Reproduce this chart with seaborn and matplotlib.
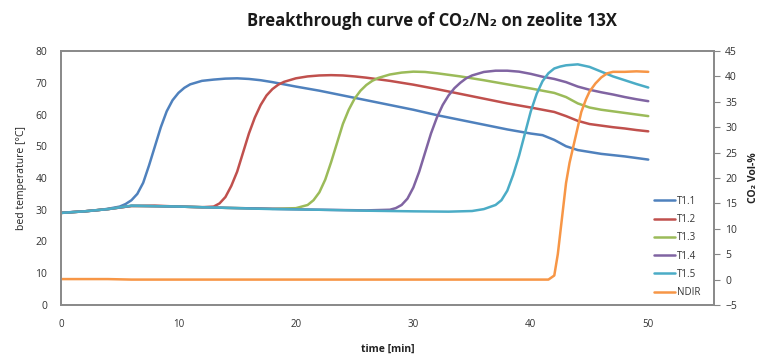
import numpy as np
import pandas as pd
import matplotlib
matplotlib.use("Agg")
import matplotlib.pyplot as plt
import seaborn as sns
from matplotlib.lines import Line2D

# ---- data ----
t_T11 = [0, 1, 2, 3, 4, 5, 5.5, 6, 6.5, 7, 7.5, 8, 8.5, 9, 9.5, 10, 10.5, 11, 12, 13, 14, 15, 16, 17, 18, 19, 20,
         22, 24, 26, 28, 30, 32, 34, 36, 38, 40, 41, 42, 43, 44, 45, 46, 47, 48, 49, 50]
v_T11 = [29, 29.3, 29.5, 29.8, 30.3, 31, 31.8, 33, 35, 38.5, 44, 50, 56, 61, 64.5, 66.8, 68.4, 69.5, 70.6, 71, 71.3,
         71.4, 71.2, 70.8, 70.2, 69.5, 68.8, 67.5, 66, 64.5, 63, 61.5, 59.8, 58.3, 56.8, 55.3, 54, 53.5, 52, 50,
         48.8, 48.2, 47.6, 47.2, 46.8, 46.3, 45.8]

t_T12 = [0, 2, 4, 6, 8, 10, 12, 13, 13.5, 14, 14.5, 15, 15.5, 16, 16.5, 17, 17.5, 18, 18.5, 19, 20, 21, 22, 23,
         24, 25, 26, 28, 30, 32, 34, 36, 38, 40, 42, 43, 44, 45, 46, 47, 48, 49, 50]
v_T12 = [29, 29.5, 30.2, 31.2, 31.3, 31, 30.8, 31, 32, 34, 37.5, 42, 48, 54, 59, 63, 66, 68, 69.4, 70.3, 71.4, 72,
         72.3, 72.4, 72.3, 72, 71.6, 70.6, 69.4, 68, 66.5, 65, 63.5, 62.2, 60.8, 59.5, 58, 57, 56.5, 56, 55.6,
         55.1, 54.7]

t_T13 = [0, 2, 4, 6, 10, 14, 18, 20, 21, 21.5, 22, 22.5, 23, 23.5, 24, 24.5, 25, 25.5, 26, 26.5, 27, 28, 29, 30,
         31, 32, 34, 36, 38, 40, 42, 43, 44, 45, 46, 47, 48, 49, 50]
v_T13 = [29, 29.5, 30.2, 31.2, 31, 30.6, 30.3, 30.5, 31.5, 33, 35.5, 39.5, 45, 51, 57, 61.5, 65, 67.5, 69.3, 70.6,
         71.5, 72.6, 73.2, 73.5, 73.4, 73, 72, 70.8, 69.5, 68.2, 66.8, 65.5, 63.5, 62.2, 61.5, 61, 60.5, 60, 59.5]

t_T14 = [0, 2, 4, 6, 10, 14, 18, 22, 26, 28, 28.5, 29, 29.5, 30, 30.5, 31, 31.5, 32, 32.5, 33, 33.5, 34, 34.5, 35,
         36, 37, 38, 39, 40, 41, 42, 43, 44, 45, 46, 47, 48, 49, 50]
v_T14 = [29, 29.5, 30.2, 31.2, 31, 30.6, 30.3, 30, 29.8, 30, 30.5, 31.5, 33.5, 37, 42, 48, 54, 59, 63, 66, 68.3,
         70, 71.4, 72.3, 73.4, 73.8, 73.8, 73.5, 72.8, 71.9, 71.2, 70.2, 68.8, 67.8, 67, 66.3, 65.5, 64.8, 64.2]

t_T15 = [0, 2, 4, 6, 10, 14, 18, 22, 26, 30, 33, 35, 36, 37, 37.5, 38, 38.5, 39, 39.5, 40, 40.5, 41, 41.5, 42,
         42.5, 43, 44, 45, 46, 47, 48, 49, 50]
v_T15 = [29, 29.5, 30.2, 31.3, 31, 30.6, 30.2, 30, 29.7, 29.5, 29.4, 29.6, 30.2, 31.5, 33, 36, 41, 47, 54, 61, 66.5,
         70.5, 73, 74.5, 75.1, 75.5, 75.8, 75, 73.5, 72, 70.8, 69.6, 68.5]

t_NDIR = [0, 4, 6, 10, 20, 30, 40, 41.5, 42, 42.3, 42.7, 43, 43.3, 43.6, 44, 44.3, 44.7, 45, 45.5, 46, 46.5, 47,
          48, 49, 50]
v_NDIR = [0.1, 0.1, 0, 0, 0, 0, 0, 0, 0.8, 5, 13, 19, 23, 26, 30, 33, 35.5, 37, 38.6, 39.8, 40.6, 40.9, 40.9, 41,
          40.9]

temp_series = ["T1.1", "T1.2", "T1.3", "T1.4", "T1.5"]
temp_times = [t_T11, t_T12, t_T13, t_T14, t_T15]
temp_vals = [v_T11, v_T12, v_T13, v_T14, v_T15]
colors = ["#4F81BD", "#C0504D", "#9BBB59", "#8064A2", "#4BACC6"]
ndir_color = "#F79646"

x_ticks = [0, 10, 20, 30, 40, 50]
y_left_ticks = [0, 10, 20, 30, 40, 50, 60, 70, 80]
y_right_ticks = [-5, 0, 5, 10, 15, 20, 25, 30, 35, 40, 45]

# ---- build tables ----
rows = []
for name, ts, vs in zip(temp_series, temp_times, temp_vals):
    for t, v in zip(ts, vs):
        rows.append({"time": t, "value": v, "series": name})
df_temp = pd.DataFrame(rows)
df_ndir = pd.DataFrame({"time": t_NDIR, "value": v_NDIR, "series": "NDIR"})

sns.set_theme(style="white")
plt.rcParams["font.family"] = ["Open Sans", "DejaVu Sans"]

fig = plt.figure(figsize=(7.69, 3.56), dpi=100)
ax = fig.add_axes([0.0793, 0.1433, 0.8492, 0.7134])
ax2 = ax.twinx()

sns.lineplot(data=df_temp, x="time", y="value", hue="series", palette=colors,
             hue_order=temp_series, ax=ax, linewidth=1.8, legend=False, sort=False,
             estimator=None)
sns.lineplot(data=df_ndir, x="time", y="value", color=ndir_color, ax=ax2,
             linewidth=1.8, legend=False, sort=False, estimator=None)

ax.set_xlim(0, 55.6)
ax.set_ylim(0, 80)
ax2.set_ylim(-5, 45)
ax.set_xticks(x_ticks)
ax.set_yticks(y_left_ticks)
ax2.set_yticks(y_right_ticks)

tick_col = "#333333"
ax.tick_params(axis="x", length=0, pad=10, labelsize=7, labelcolor=tick_col)
ax.tick_params(axis="y", length=0, pad=10, labelsize=7.5, labelcolor=tick_col)
ax2.tick_params(axis="y", right=True, length=4, width=0.8, color="#868686", pad=4,
                labelsize=7.5, labelcolor=tick_col)

for a in (ax, ax2):
    for s in a.spines.values():
        s.set_color("#8a8a8a")
        s.set_linewidth(1.3)
    a.grid(False)

ax.set_xlabel("time [min]", fontsize=7.5, fontweight="bold", labelpad=10, color="#222222")
ax.set_ylabel("bed temperature [°C]", fontsize=7.5, labelpad=6, color="#222222")
ax2.set_ylabel("CO₂ Vol-%", fontsize=7.5, fontweight="bold", labelpad=8, color="#222222")

fig.suptitle("Breakthrough curve of CO₂/N₂ on zeolite 13X", x=0.562, y=0.965,
             fontsize=12, fontweight="bold", color="#1a1a1a")

handles = [Line2D([], [], color=c, lw=1.8) for c in colors] + [Line2D([], [], color=ndir_color, lw=1.8)]
labels = temp_series + ["NDIR"]
leg = ax.legend(handles, labels, loc="lower right", bbox_to_anchor=(0.99, 0.0),
                frameon=False, fontsize=7, handlelength=2.2, handletextpad=0.2,
                labelspacing=0.75, borderaxespad=0.3)
for txt in leg.get_texts():
    txt.set_color("#333333")

fig.savefig("out.png", dpi=100)
